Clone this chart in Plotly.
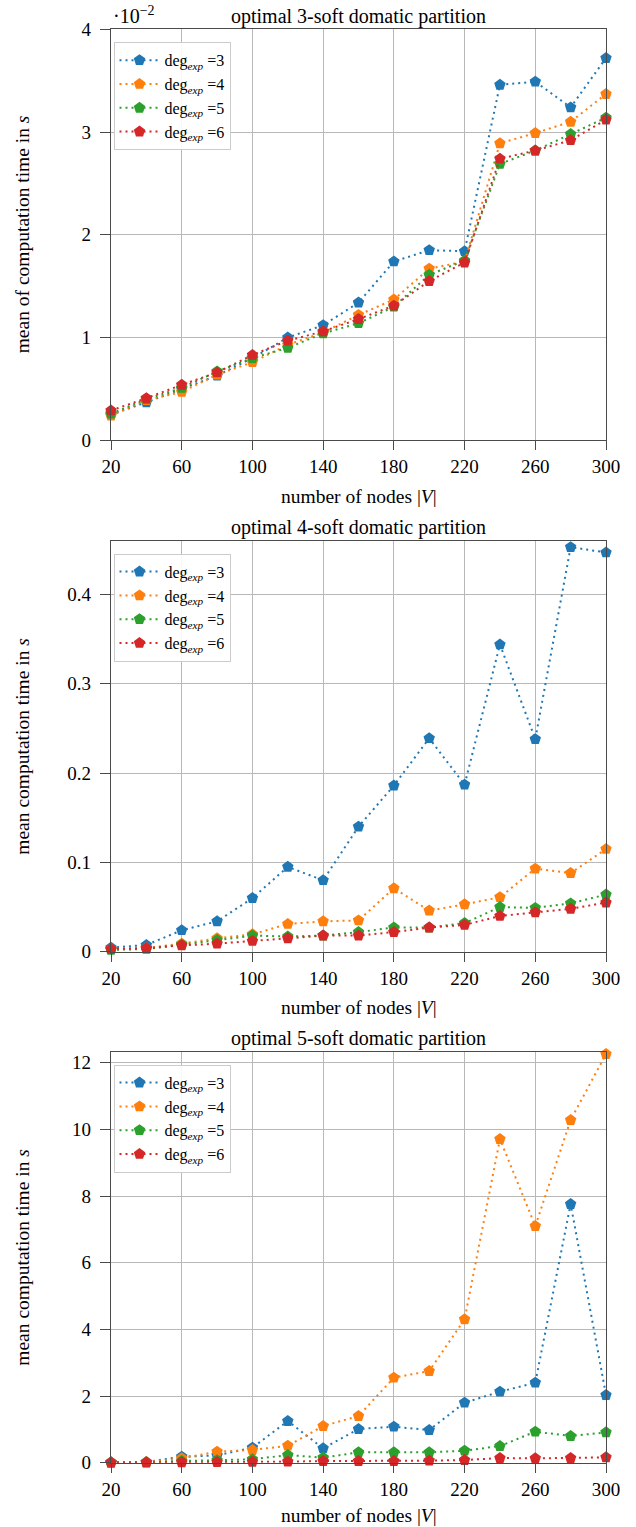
import plotly.graph_objects as go

# ---------------- data ----------------
nodes = [20, 40, 60, 80, 100, 120, 140, 160, 180, 200, 220, 240, 260, 280, 300]
series_names = ["deg<sub><i>exp</i></sub> =3", "deg<sub><i>exp</i></sub> =4",
                "deg<sub><i>exp</i></sub> =5", "deg<sub><i>exp</i></sub> =6"]
colors = ["#1f77b4", "#ff7f0e", "#2ca02c", "#d62728"]

# panel 1 values in units of 1e-2 s
p1_deg3 = [0.25, 0.37, 0.50, 0.63, 0.80, 1.00, 1.12, 1.34, 1.74, 1.85, 1.84, 3.46, 3.49, 3.24, 3.72]
p1_deg4 = [0.24, 0.39, 0.47, 0.64, 0.76, 0.93, 1.05, 1.22, 1.37, 1.67, 1.74, 2.89, 2.99, 3.10, 3.37]
p1_deg5 = [0.26, 0.40, 0.51, 0.67, 0.80, 0.90, 1.04, 1.14, 1.30, 1.61, 1.75, 2.69, 2.82, 2.98, 3.14]
p1_deg6 = [0.29, 0.41, 0.54, 0.66, 0.83, 0.97, 1.06, 1.18, 1.31, 1.55, 1.73, 2.74, 2.82, 2.92, 3.12]

p2_deg3 = [0.0045, 0.0075, 0.024, 0.034, 0.060, 0.095, 0.080, 0.140, 0.186, 0.239, 0.187, 0.344, 0.238, 0.453, 0.447]
p2_deg4 = [0.003, 0.004, 0.009, 0.015, 0.0195, 0.031, 0.034, 0.035, 0.071, 0.046, 0.053, 0.061, 0.093, 0.088, 0.115]
p2_deg5 = [0.002, 0.003, 0.008, 0.013, 0.018, 0.017, 0.018, 0.022, 0.027, 0.027, 0.032, 0.050, 0.049, 0.054, 0.064]
p2_deg6 = [0.003, 0.004, 0.007, 0.009, 0.012, 0.015, 0.018, 0.018, 0.022, 0.027, 0.030, 0.040, 0.044, 0.048, 0.055]

p3_deg3 = [0.01, 0.02, 0.18, 0.22, 0.45, 1.25, 0.43, 1.01, 1.08, 0.98, 1.80, 2.13, 2.40, 7.76, 2.03]
p3_deg4 = [0.01, 0.02, 0.13, 0.33, 0.38, 0.51, 1.10, 1.40, 2.55, 2.75, 4.30, 9.71, 7.10, 10.28, 12.26]
p3_deg5 = [0.005, 0.01, 0.05, 0.07, 0.10, 0.23, 0.15, 0.31, 0.31, 0.31, 0.36, 0.50, 0.93, 0.80, 0.91]
p3_deg6 = [0.003, 0.005, 0.01, 0.02, 0.025, 0.03, 0.05, 0.05, 0.05, 0.06, 0.08, 0.14, 0.13, 0.14, 0.16]

panels = [
    dict(title="optimal 3-soft domatic partition", ytitle="mean of computation time in <i>s</i>",
         data=[p1_deg3, p1_deg4, p1_deg5, p1_deg6], yrange=[0, 4],
         ytickvals=[0, 1, 2, 3, 4], yticktext=["0", "1", "2", "3", "4"]),
    dict(title="optimal 4-soft domatic partition", ytitle="mean computation time in <i>s</i>",
         data=[p2_deg3, p2_deg4, p2_deg5, p2_deg6], yrange=[0, 0.4602],
         ytickvals=[0, 0.1, 0.2, 0.3, 0.4], yticktext=["0", "0.1", "0.2", "0.3", "0.4"]),
    dict(title="optimal 5-soft domatic partition", ytitle="mean computation time in <i>s</i>",
         data=[p3_deg3, p3_deg4, p3_deg5, p3_deg6], yrange=[0, 12.33],
         ytickvals=[0, 2, 4, 6, 8, 10, 12], yticktext=["0", "2", "4", "6", "8", "10", "12"]),
]
xtickvals = [20, 60, 100, 140, 180, 220, 260, 300]
xlabel = "number of nodes |<i>V</i>|"

# ---------------- layout geometry ----------------
W, H = 636, 1527
ML, MR, MT, MB = 111, 30, 29, 64
PW = W - ML - MR
PH = H - MT - MB
panel_tops = [29.3, 540.7, 1051.7]
panel_h = 411.0
xtitle_shift = [-56, -56, -53]

def yf(px):
    return 1 - (px - MT) / PH

def xf(px):
    return (px - ML) / PW

FONT = "Liberation Serif"
AXIS_COL = "#4a4a4a"
GRID_COL = "#b8b8b8"

fig = go.Figure()
annotations = []
layout = dict(
    width=W, height=H,
    margin=dict(l=ML, r=MR, t=MT, b=MB, pad=0),
    paper_bgcolor="white", plot_bgcolor="white",
    font=dict(family=FONT, size=17, color="black"),
)

for i, p in enumerate(panels):
    k = "" if i == 0 else str(i + 1)
    top = panel_tops[i]
    dom = [yf(top + panel_h), yf(top)]
    legname = "legend" + k
    for j, vals in enumerate(p["data"]):
        fig.add_trace(go.Scatter(
            x=nodes, y=vals, mode="lines+markers", name=series_names[j],
            line=dict(color=colors[j], width=2, dash="2px,4px"),
            marker=dict(symbol="pentagon", size=12, color=colors[j]),
            xaxis="x" + k, yaxis="y" + k, legend=legname, cliponaxis=False,
        ))
    layout["xaxis" + k] = dict(
        domain=[0, 1], anchor="y" + k, range=[20, 300],
        tickvals=xtickvals, ticks="outside", ticklen=9, tickwidth=1.2, tickcolor=AXIS_COL,
        showline=True, linecolor=AXIS_COL, linewidth=1.3, mirror=True,
        showgrid=True, gridcolor=GRID_COL, gridwidth=1, zeroline=False,
        tickfont=dict(family=FONT, size=19, color="black"),
    )
    layout["yaxis" + k] = dict(
        domain=dom, anchor="x" + k, range=p["yrange"],
        tickvals=p["ytickvals"], ticktext=p["yticktext"],
        ticks="outside", ticklen=10, tickwidth=1.2, tickcolor=AXIS_COL,
        ticklabelstandoff=5,
        showline=True, linecolor=AXIS_COL, linewidth=1.3, mirror=True,
        showgrid=True, gridcolor=GRID_COL, gridwidth=1, zeroline=False,
        tickfont=dict(family=FONT, size=19, color="black"),
    )
    layout[legname] = dict(
        x=xf(113.5), y=yf(top + 13), xanchor="left", yanchor="top",
        xref="paper", yref="paper",
        bgcolor="rgba(255,255,255,0.9)", bordercolor="#cccccc", borderwidth=1,
        font=dict(family=FONT, size=16, color="black"),
        itemwidth=40, tracegroupgap=0,
    )
    annotations.append(dict(
        text=p["title"], x=0.5, y=yf(top), xref="paper", yref="paper",
        xanchor="center", yanchor="middle", yshift=13, showarrow=False,
        font=dict(family=FONT, size=20, color="black"),
    ))
    annotations.append(dict(
        text=p["ytitle"], x=xf(22.5), y=yf(top + panel_h / 2), xref="paper", yref="paper",
        xanchor="center", yanchor="middle", textangle=-90, showarrow=False,
        font=dict(family=FONT, size=19.5, color="black"),
    ))
    annotations.append(dict(
        text=xlabel, x=0.5, y=yf(top + panel_h), xref="paper", yref="paper",
        xanchor="center", yanchor="middle", yshift=xtitle_shift[i], showarrow=False,
        font=dict(family=FONT, size=19.5, color="black"),
    ))

annotations.append(dict(
    text="·10<sup>−2</sup>", x=xf(111), y=yf(panel_tops[0]), xref="paper", yref="paper",
    xanchor="left", yanchor="middle", yshift=14, showarrow=False,
    font=dict(family=FONT, size=20, color="black"),
))

layout["annotations"] = annotations
fig.update_layout(**layout)
fig.write_html("out.html")
